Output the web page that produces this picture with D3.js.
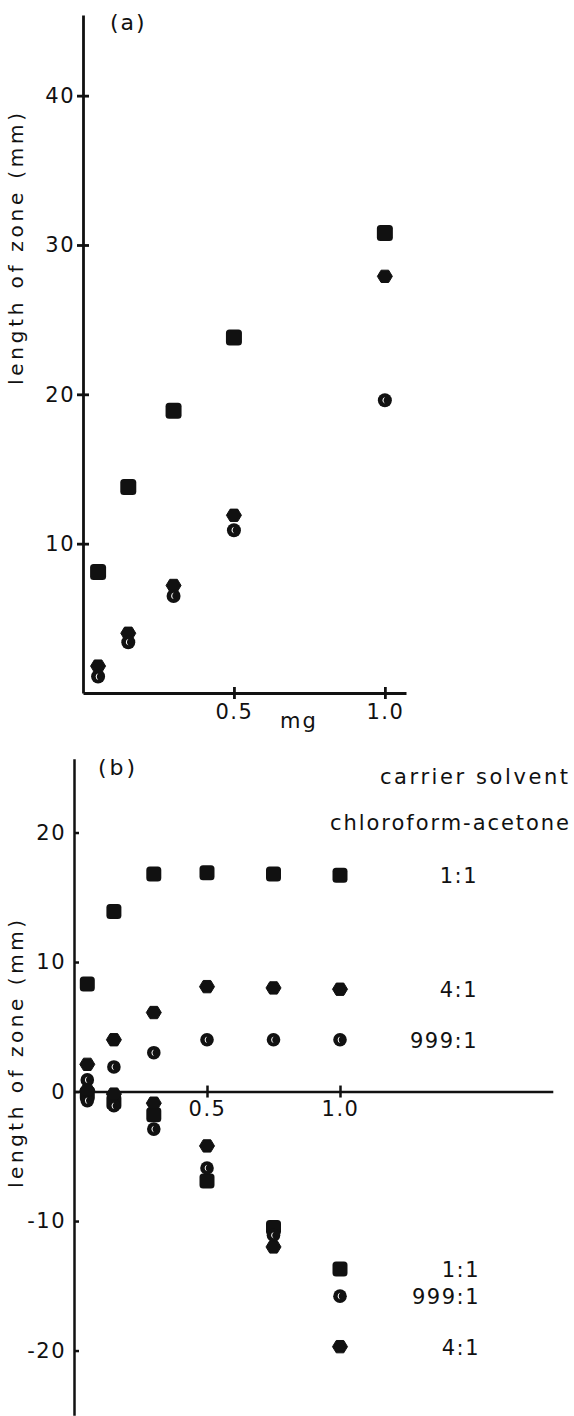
<!DOCTYPE html>
<html>
<head>
<meta charset="utf-8">
<script src="https://cdn.jsdelivr.net/npm/d3@7"></script>
<style>
  html, body { margin: 0; padding: 0; background: #fff; }
  svg { display: block; }
  text { font-family: "DejaVu Sans", sans-serif; fill: #111; }
</style>
</head>
<body>
<svg id="chart" width="574" height="1416"></svg>
<script>
// ---------- data ----------
const doseA = [0.05, 0.15, 0.3, 0.5, 1.0];
const zoneA_1to1 = [8.1, 13.8, 18.9, 23.8, 30.8];
const zoneA_4to1 = [1.8, 4.0, 7.2, 11.9, 27.9];
const zoneA_999to1 = [1.1, 3.4, 6.5, 10.9, 19.6];

const doseB = [0.05, 0.15, 0.3, 0.5, 0.75, 1.0];
const upperB_1to1 = [8.3, 13.9, 16.8, 16.9, 16.8, 16.7];
const upperB_4to1 = [2.1, 4.0, 6.1, 8.1, 8.0, 7.9];
const upperB_999to1 = [0.9, 1.9, 3.0, 4.0, 4.0, 4.0];
const lowerB_1to1 = [-0.2, -0.8, -1.8, -6.9, -10.5, -13.7];
const lowerB_4to1 = [0.1, -0.2, -0.9, -4.2, -12.0, -19.7];
const lowerB_999to1 = [-0.7, -1.1, -2.9, -5.9, -11.1, -15.8];

const ticksAy = [10, 20, 30, 40];
const ticksAx = [0.5, 1.0];
const ticksBy = [-20, -10, 0, 10, 20];
const ticksBx = [0.5, 1.0];

const upperLabels = ["1:1", "4:1", "999:1"];
const lowerLabels = ["1:1", "999:1", "4:1"];

// ---------- setup ----------
const svg = d3.select("#chart");
const FS = 21;

function styleAxis(g, sw) {
  g.selectAll("path.domain").attr("stroke", "#111").attr("stroke-width", sw);
  g.selectAll(".tick line").attr("stroke", "#111").attr("stroke-width", sw);
  g.selectAll(".tick text").attr("font-size", FS).attr("letter-spacing", 1.5)
    .attr("fill", "#111").attr("font-family", "DejaVu Sans, sans-serif");
}

// marker drawers
function square(g, cx, cy, s) {
  g.append("rect").attr("x", cx - s / 2).attr("y", cy - s / 2)
    .attr("width", s).attr("height", s).attr("rx", 3.5).attr("fill", "#111");
}
function hexagon(g, cx, cy, r) {
  const pts = d3.range(6).map(i => {
    const a = Math.PI / 3 * i;
    return [cx + r * Math.cos(a), cy + r * 0.95 * Math.sin(a)];
  });
  g.append("path").attr("d", d3.line()(pts) + "Z").attr("fill", "#111")
    .attr("stroke", "#111").attr("stroke-width", 1).attr("stroke-linejoin", "round");
}
function crescent(g, cx, cy, r) {
  g.append("circle").attr("cx", cx).attr("cy", cy).attr("r", r).attr("fill", "#111");
  const k = r / 7;
  g.append("path")
    .attr("transform", `translate(${cx},${cy}) scale(${k})`)
    .attr("d", "M0.2,-3.4 A3.5,3.5 0 0 0 0.2,3.4 A5.0,5.0 0 0 1 0.2,-3.4 Z")
    .attr("fill", "#fff");
}

// ---------- panel (a) ----------
const xA = d3.scaleLinear().domain([0, 1.07]).range([83, 406]);
const yA = d3.scaleLinear().domain([0, 45.4]).range([693, 15]);

const gAy = svg.append("g").attr("transform", `translate(${xA(0)},0)`)
  .call(d3.axisLeft(yA).tickValues(ticksAy).tickSizeInner(6).tickSizeOuter(0).tickPadding(2).tickFormat(d3.format("d")));
styleAxis(gAy, 2.8);
const gAy2 = svg.append("g").attr("transform", `translate(${xA(0)},0)`)
  .call(d3.axisRight(yA).tickValues(ticksAy).tickSizeInner(6).tickSizeOuter(0).tickFormat(""));
styleAxis(gAy2, 2.8);
gAy2.select("path.domain").remove();

const gAx = svg.append("g").attr("transform", `translate(0,${yA(0)})`)
  .call(d3.axisBottom(xA).tickValues(ticksAx).tickSizeInner(6).tickSizeOuter(0).tickPadding(5).tickFormat(d3.format(".1f")));
styleAxis(gAx, 2.8);
const gAx2 = svg.append("g").attr("transform", `translate(0,${yA(0)})`)
  .call(d3.axisTop(xA).tickValues(ticksAx).tickSizeInner(6).tickSizeOuter(0).tickFormat(""));
styleAxis(gAx2, 2.8);
gAx2.select("path.domain").remove();

svg.append("text").attr("x", 299).attr("y", 728).attr("text-anchor", "middle")
  .attr("font-size", FS).attr("letter-spacing", 2).text("mg");
svg.append("text").attr("x", 110).attr("y", 30)
  .attr("font-size", 22).attr("letter-spacing", 2).text("(a)");
svg.append("text").attr("transform", "translate(23,249) rotate(-90)")
  .attr("text-anchor", "middle").attr("font-size", 20)
  .attr("textLength", 272).attr("lengthAdjust", "spacing").text("length of zone (mm)");

const mA = svg.append("g");
doseA.forEach((d, i) => {
  square(mA, xA(d), yA(zoneA_1to1[i]), 16);
  hexagon(mA, xA(d), yA(zoneA_4to1[i]), 7.5);
  crescent(mA, xA(d), yA(zoneA_999to1[i]), 7);
});

// ---------- panel (b) ----------
const xB = d3.scaleLinear().domain([0, 1.8]).range([74, 552.8]);
const yB = d3.scaleLinear().domain([-25, 25.7]).range([1415.3, 758.7]);

const gBy = svg.append("g").attr("transform", `translate(${xB(0)},0)`)
  .call(d3.axisLeft(yB).tickValues(ticksBy).tickSizeInner(0).tickSizeOuter(0).tickPadding(8).tickFormat(d3.format("d")));
styleAxis(gBy, 2.5);
gBy.selectAll(".tick text").text(d => d < 0 ? "-" + Math.abs(d) : String(d));
const gBy2 = svg.append("g").attr("transform", `translate(${xB(0)},0)`)
  .call(d3.axisRight(yB).tickValues(ticksBy).tickSizeInner(5).tickSizeOuter(0).tickFormat(""));
styleAxis(gBy2, 2.5);
gBy2.select("path.domain").remove();

const gBx = svg.append("g").attr("transform", `translate(0,${yB(0)})`)
  .call(d3.axisBottom(xB).tickValues(ticksBx).tickSizeInner(6).tickSizeOuter(0).tickPadding(4).tickFormat(d3.format(".1f")));
styleAxis(gBx, 2.5);
const gBx2 = svg.append("g").attr("transform", `translate(0,${yB(0)})`)
  .call(d3.axisTop(xB).tickValues(ticksBx).tickSizeInner(6).tickSizeOuter(0).tickFormat(""));
styleAxis(gBx2, 2.5);
gBx2.select("path.domain").remove();

svg.append("text").attr("x", 98).attr("y", 775)
  .attr("font-size", 22).attr("letter-spacing", 3).text("(b)");
svg.append("text").attr("transform", "translate(23,1054) rotate(-90)")
  .attr("text-anchor", "middle").attr("font-size", 20)
  .attr("textLength", 268).attr("lengthAdjust", "spacing").text("length of zone (mm)");

svg.append("text").attr("x", 380).attr("y", 784).attr("font-size", FS)
  .attr("textLength", 188).attr("lengthAdjust", "spacing").text("carrier solvent");
svg.append("text").attr("x", 330).attr("y", 830).attr("font-size", FS)
  .attr("textLength", 239).attr("lengthAdjust", "spacing").text("chloroform-acetone");

const mB = svg.append("g");
doseB.forEach((d, i) => {
  square(mB, xB(d), yB(upperB_1to1[i]), 15);
  hexagon(mB, xB(d), yB(upperB_4to1[i]), 7.5);
  crescent(mB, xB(d), yB(upperB_999to1[i]), 6.8);
  square(mB, xB(d), yB(lowerB_1to1[i]), 15);
  crescent(mB, xB(d), yB(lowerB_999to1[i]), 6.8);
  hexagon(mB, xB(d), yB(lowerB_4to1[i]), 7.5);
});

// ratio labels next to the last points
const last = doseB.length - 1;
const upperVals = [upperB_1to1[last], upperB_4to1[last], upperB_999to1[last]];
const lowerVals = [lowerB_1to1[last], lowerB_999to1[last], lowerB_4to1[last]];
upperLabels.forEach((t, i) => {
  svg.append("text").attr("x", 478).attr("y", yB(upperVals[i]) + 8)
    .attr("text-anchor", "end").attr("font-size", FS).attr("letter-spacing", 1.5).text(t);
});
lowerLabels.forEach((t, i) => {
  svg.append("text").attr("x", 480).attr("y", yB(lowerVals[i]) + 8)
    .attr("text-anchor", "end").attr("font-size", FS).attr("letter-spacing", 1.5).text(t);
});
</script>
</body>
</html>
